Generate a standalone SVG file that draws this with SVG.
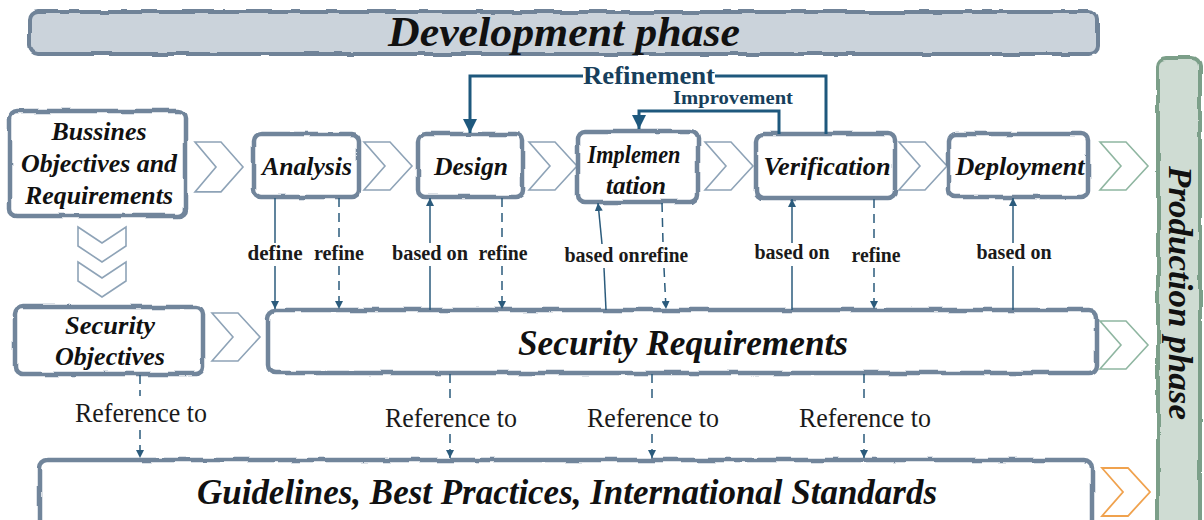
<svg xmlns="http://www.w3.org/2000/svg" width="1204" height="520" viewBox="0 0 1204 520">
  <defs>
    <!-- hand-drawn wobble for box outlines -->
    <filter id="rough" x="-5%" y="-15%" width="110%" height="130%">
      <feTurbulence type="fractalNoise" baseFrequency="0.035" numOctaves="2" seed="7" result="noise"/>
      <feDisplacementMap in="SourceGraphic" in2="noise" scale="4" xChannelSelector="R" yChannelSelector="G"/>
    </filter>
    <marker id="tip" viewBox="0 0 10 10" refX="10" refY="5" markerWidth="8" markerHeight="8" markerUnits="userSpaceOnUse" orient="auto">
      <path d="M0,0 L10,5 L0,10 Z" fill="#2b5b7c"/>
    </marker>
    <marker id="bigtip" viewBox="0 0 10 10" refX="10" refY="5" markerWidth="14" markerHeight="16" markerUnits="userSpaceOnUse" orient="auto">
      <path d="M0,0 L10,5 L0,10 Z" fill="#1e587d"/>
    </marker>
    <!-- outline chevron, 48 x 48 -->
    <path id="chev" d="M0,0 H26 L48,24 L26,48 H0 L21,24 Z"/>
    <path id="chevDown" d="M0,0 L24,16 L48,0 V19 L24,35 L0,19 Z"/>
    <style>
      .box { fill: #ffffff; stroke: #71859b; stroke-width: 4.5; filter: url(#rough); }
      .lbl { font-family: "Liberation Serif", "Times New Roman", serif; font-weight: bold; font-style: italic; fill: #111; text-anchor: middle; }
      .rel { font-family: "Liberation Serif", "Times New Roman", serif; font-weight: bold; font-size: 20px; fill: #1a1a1a; text-anchor: middle; }
      .ref { font-family: "Liberation Serif", "Times New Roman", serif; font-size: 27px; fill: #1a1a1a; text-anchor: middle; }
      .chev { fill: #ffffff; stroke: #8ea3b7; stroke-width: 1.6; }
      .chevG { fill: #ffffff; stroke: #8fb6a1; stroke-width: 1.6; }
      .chevO { fill: #ffffff; stroke: #f0a24e; stroke-width: 1.8; }
      .solid { stroke: #2b5b7c; stroke-width: 1.5; fill: none; }
      .dash { stroke: #2b5b7c; stroke-width: 1.5; fill: none; stroke-dasharray: 9 6; }
      .loop { stroke: #1e587d; stroke-width: 3; fill: none; }
      .loopText { font-family: "Liberation Serif", "Times New Roman", serif; font-weight: bold; fill: #173f5c; text-anchor: middle; }
    </style>
  </defs>

  <rect width="1204" height="520" fill="#ffffff"/>

  <!-- phase banners -->
  <g id="development-phase">
    <rect x="30" y="12" width="1067" height="42" rx="8" fill="#cbd3db" stroke="#6f8398" stroke-width="4" filter="url(#rough)"/>
    <text class="lbl" x="564" y="46" font-size="42" textLength="352" lengthAdjust="spacingAndGlyphs">Development phase</text>
  </g>
  <g id="production-phase">
    <rect x="1158" y="58" width="42" height="480" rx="8" fill="#cfdcd3" stroke="#7b9f89" stroke-width="4" filter="url(#rough)"/>
    <text class="lbl" x="1180" y="293" font-size="34" transform="rotate(90 1180 293)" dy="11" textLength="254" lengthAdjust="spacingAndGlyphs">Production phase</text>
  </g>

  <!-- flow chevrons -->
  <g id="chevrons">
    <use href="#chev" class="chev" transform="translate(195,142) scale(1,1.04)"/>
    <use href="#chev" class="chev" transform="translate(364,142)"/>
    <use href="#chev" class="chev" transform="translate(529,142)"/>
    <use href="#chev" class="chev" transform="translate(705,142)"/>
    <use href="#chev" class="chev" transform="translate(899,142)"/>
    <use href="#chev" class="chevG" transform="translate(1100,142)"/>
    <use href="#chevDown" class="chev" transform="translate(78,227)"/>
    <use href="#chevDown" class="chev" transform="translate(78,262)"/>
    <use href="#chev" class="chev" transform="translate(212,313)"/>
    <use href="#chev" class="chevG" transform="translate(1100,321)"/>
    <use href="#chev" class="chevO" transform="translate(1102,468)"/>
  </g>

  <!-- nodes -->
  <g id="business-objectives">
    <rect class="box" x="10" y="111" width="175" height="105" rx="7"/>
    <text class="lbl" font-size="26" x="99" y="140" textLength="95" lengthAdjust="spacingAndGlyphs">Bussines</text>
    <text class="lbl" font-size="26" x="99" y="172" textLength="156" lengthAdjust="spacingAndGlyphs">Objectives and</text>
    <text class="lbl" font-size="26" x="99" y="204" textLength="148" lengthAdjust="spacingAndGlyphs">Requirements</text>
  </g>
  <g id="analysis">
    <rect class="box" x="254" y="134" width="105" height="63" rx="7"/>
    <text class="lbl" font-size="26" x="307" y="175" textLength="90" lengthAdjust="spacingAndGlyphs">Analysis</text>
  </g>
  <g id="design">
    <rect class="box" x="418" y="134" width="105" height="63" rx="7"/>
    <text class="lbl" font-size="26" x="471" y="175" textLength="74" lengthAdjust="spacingAndGlyphs">Design</text>
  </g>
  <g id="implementation">
    <rect class="box" x="578" y="131" width="120" height="71" rx="7"/>
    <text class="lbl" font-size="26" x="634" y="163" textLength="93" lengthAdjust="spacingAndGlyphs">Implemen</text>
    <text class="lbl" font-size="26" x="636" y="194" textLength="60" lengthAdjust="spacingAndGlyphs">tation</text>
  </g>
  <g id="verification">
    <rect class="box" x="756" y="134" width="139" height="64" rx="7"/>
    <text class="lbl" font-size="26" x="827" y="175" textLength="127" lengthAdjust="spacingAndGlyphs">Verification</text>
  </g>
  <g id="deployment">
    <rect class="box" x="949" y="134" width="139" height="63" rx="7"/>
    <text class="lbl" font-size="26" x="1020" y="175" textLength="129" lengthAdjust="spacingAndGlyphs">Deployment</text>
  </g>
  <g id="security-objectives">
    <rect class="box" x="15" y="307" width="188" height="67" rx="7"/>
    <text class="lbl" font-size="26" x="110" y="334" textLength="90" lengthAdjust="spacingAndGlyphs">Security</text>
    <text class="lbl" font-size="26" x="110" y="365" textLength="110" lengthAdjust="spacingAndGlyphs">Objectives</text>
  </g>
  <g id="security-requirements">
    <rect class="box" x="268" y="310" width="829" height="63" rx="8"/>
    <text class="lbl" font-size="36" x="683" y="355" textLength="330" lengthAdjust="spacingAndGlyphs">Security Requirements</text>
  </g>
  <g id="guidelines">
    <rect class="box" x="40" y="460" width="1052" height="70" rx="8"/>
    <text class="lbl" font-size="36" x="567" y="504" textLength="740" lengthAdjust="spacingAndGlyphs">Guidelines, Best Practices, International Standards</text>
  </g>

  <!-- connectors -->
  <g id="connectors">
    <!-- feedback loops -->
    <path class="loop" d="M583,76 H470 V133" marker-end="url(#bigtip)"/>
    <path class="loop" d="M715,76 H826 V134"/>
    <path class="loop" d="M779,134 V111 H639 V129" marker-end="url(#bigtip)"/>
    <text class="loopText" x="649" y="84" font-size="25" textLength="132" lengthAdjust="spacingAndGlyphs">Refinement</text>
    <text class="loopText" x="733" y="104" font-size="19" textLength="120" lengthAdjust="spacingAndGlyphs">Improvement</text>

    <!-- phases to security requirements -->
    <path class="solid" d="M275,198 V243"/>
    <path class="solid" d="M275,266 V309" marker-end="url(#tip)"/>
    <path class="dash" d="M339,198 V243"/>
    <path class="dash" d="M339,266 V309" marker-end="url(#tip)"/>
    <path class="solid" d="M430,310 V266"/>
    <path class="solid" d="M430,243 V198" marker-end="url(#tip)"/>
    <path class="dash" d="M502,198 V243"/>
    <path class="dash" d="M502,266 V309" marker-end="url(#tip)"/>
    <path class="solid" d="M606,310 L604,268"/>
    <path class="solid" d="M602,244 L598,203" marker-end="url(#tip)"/>
    <path class="dash" d="M662,203 L663,243"/>
    <path class="dash" d="M664,268 L666,309" marker-end="url(#tip)"/>
    <path class="solid" d="M792,310 V266"/>
    <path class="solid" d="M792,243 V199" marker-end="url(#tip)"/>
    <path class="dash" d="M874,199 V243"/>
    <path class="dash" d="M874,268 V309" marker-end="url(#tip)"/>
    <path class="solid" d="M1013,310 V266"/>
    <path class="solid" d="M1013,243 V198" marker-end="url(#tip)"/>

    <text class="rel" x="275" y="260" textLength="55" lengthAdjust="spacingAndGlyphs">define</text>
    <text class="rel" x="339" y="260" textLength="50" lengthAdjust="spacingAndGlyphs">refine</text>
    <text class="rel" x="430" y="260" textLength="76" lengthAdjust="spacingAndGlyphs">based on</text>
    <text class="rel" x="503" y="260" textLength="49" lengthAdjust="spacingAndGlyphs">refine</text>
    <text class="rel" x="602" y="262" textLength="75" lengthAdjust="spacingAndGlyphs">based on</text>
    <text class="rel" x="664" y="262" textLength="48" lengthAdjust="spacingAndGlyphs">refine</text>
    <text class="rel" x="792" y="259" textLength="75" lengthAdjust="spacingAndGlyphs">based on</text>
    <text class="rel" x="876" y="262" textLength="49" lengthAdjust="spacingAndGlyphs">refine</text>
    <text class="rel" x="1014" y="259" textLength="75" lengthAdjust="spacingAndGlyphs">based on</text>

    <!-- references to standards -->
    <path class="dash" d="M140,375 V396"/>
    <path class="dash" d="M140,430 V458" marker-end="url(#tip)"/>
    <path class="dash" d="M450,374 V400"/>
    <path class="dash" d="M450,434 V458" marker-end="url(#tip)"/>
    <path class="dash" d="M652,374 V400"/>
    <path class="dash" d="M652,434 V458" marker-end="url(#tip)"/>
    <path class="dash" d="M864,374 V400"/>
    <path class="dash" d="M864,434 V458" marker-end="url(#tip)"/>

    <text class="ref" x="141" y="422" textLength="132" lengthAdjust="spacingAndGlyphs">Reference to</text>
    <text class="ref" x="451" y="427" textLength="132" lengthAdjust="spacingAndGlyphs">Reference to</text>
    <text class="ref" x="653" y="427" textLength="132" lengthAdjust="spacingAndGlyphs">Reference to</text>
    <text class="ref" x="865" y="427" textLength="132" lengthAdjust="spacingAndGlyphs">Reference to</text>
  </g>
</svg>
